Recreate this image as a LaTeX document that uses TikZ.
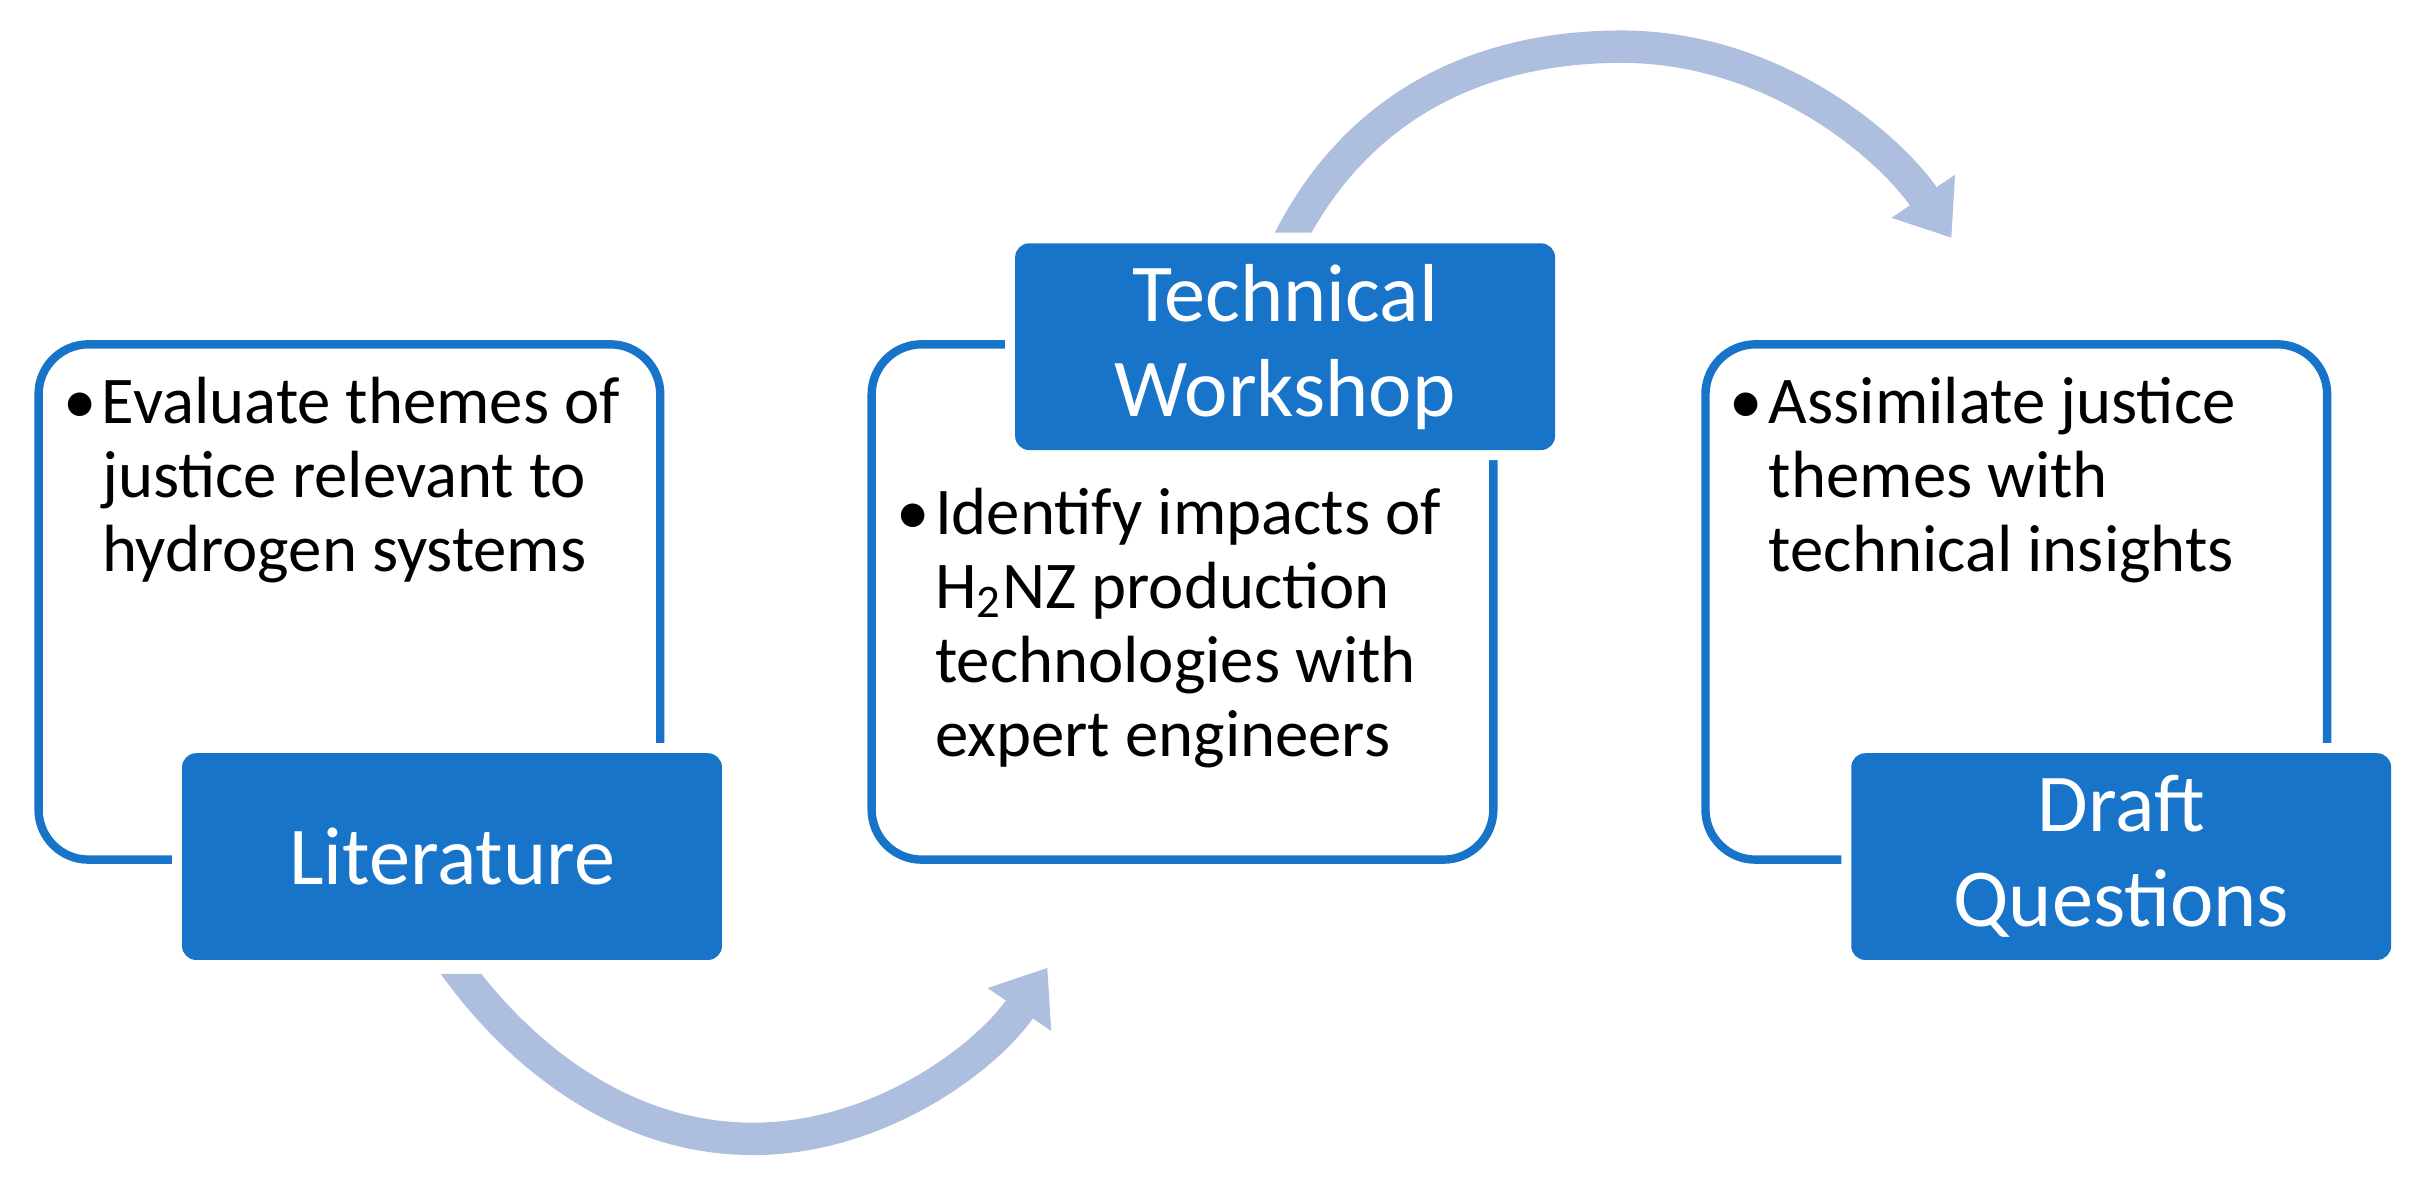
\documentclass[tikz,border=0pt]{standalone}
\usepackage{fontspec}
\setmainfont{Carlito}
\usetikzlibrary{positioning,calc,arrows.meta}

\definecolor{boxblue}{HTML}{1874C8}
\definecolor{arrowblue}{HTML}{ADBEDF}

\tikzset{
  stagebox/.style={draw=boxblue, line width=0.084cm, rounded corners=0.5cm,
    minimum width=6.217cm, minimum height=5.153cm, inner sep=0pt},
  stagelabel/.style={fill=boxblue, rounded corners=0.14cm, text=white, align=center,
    minimum width=5.399cm, minimum height=2.067cm, inner sep=0pt,
    font=\fontsize{23.4}{27}\selectfont, preaction={draw=white, line width=0.2cm}},
  stagetext/.style={anchor=base west, inner sep=0pt, font=\fontsize{19}{21.1}\selectfont},
  cyclearrow/.style={draw=arrowblue, line width=0.324cm,
    -{Triangle[width=0.733cm, length=0.504cm]}},
}

\newcommand{\bulletlines}[1]{\begin{tabular}[t]{@{}p{0.39cm}@{}l@{}}#1\end{tabular}}

\begin{document}
\begin{tikzpicture}

        \useasboundingbox (0,0) rectangle (24.19,11.79);

        % stage frames
        \node[stagebox] (litbox) at (3.494,5.770) {};
        \node[stagebox] (techbox) at (11.825,5.770) {};
        \node[stagebox] (draftbox) at (20.163,5.770) {};

        % stage titles
        \node[stagelabel] (litlabel) at ($(litbox)+(1.026,-2.546)$) {Literature};
        \node[stagelabel] (techlabel) at ($(techbox)+(1.026,2.553)$) {Technical\\Workshop};
        \node[stagelabel] (draftlabel) at ($(draftbox)+(1.049,-2.546)$) {Draft\\Questions};

        % bullet texts
        \node[stagetext] (littext) at ($(litbox.north west)+(0.28,-0.83)$)
            {\bulletlines{• & Evaluate themes of\\ & justice relevant to\\ & hydrogen systems}};
        \node[stagetext] (techtext) at ($(techbox.north west)+(0.28,-1.94)$)
            {\bulletlines{• & Identify impacts of\\ & H\textsubscript{2}NZ production\\ & technologies with\\ & expert engineers}};
        \node[stagetext] (drafttext) at ($(draftbox.north west)+(0.28,-0.83)$)
            {\bulletlines{• & Assimilate justice\\ & themes with\\ & technical insights}};

        % cycle arrows
        \coordinate (lowstart) at (4.430,2.302);
        \coordinate (lowmid) at (7.528,0.401);
        \coordinate (lowend) at (10.475,2.113);
        \coordinate (highstart) at (12.801,9.200);
        \coordinate (highmid) at (16.214,11.323);
        \coordinate (highend) at (19.515,9.410);

        \begin{scope}
            \clip (0,0) -- (0,2.052) -- (7,2.052) -- (7,11.79) -- (24.19,11.79) -- (24.19,0) -- cycle;
            \path[cyclearrow] (lowstart) .. controls (5.091,1.311) and (6.171,0.401) .. (lowmid)
                .. controls (8.793,0.401) and (9.873,1.219) .. (lowend);
        \end{scope}
        \begin{scope}
            \clip (0,9.463) -- (16,9.463) -- (16,0) -- (24.19,0) -- (24.19,11.79) -- (0,11.79) -- cycle;
            \path[cyclearrow] (highstart) .. controls (13.500,10.750) and (14.810,11.323) .. (highmid)
                .. controls (17.741,11.323) and (18.898,10.321) .. (highend);
        \end{scope}

\end{tikzpicture}
\end{document}
